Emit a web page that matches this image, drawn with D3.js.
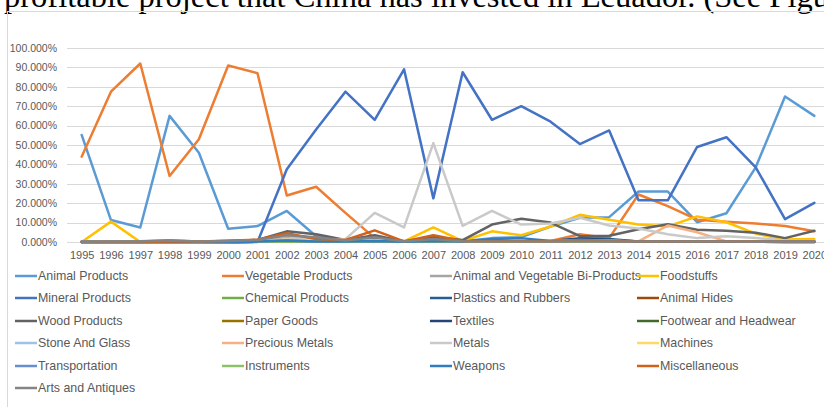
<!DOCTYPE html>
<html>
<head>
<meta charset="utf-8">
<script src="https://cdn.jsdelivr.net/npm/d3@7"></script>
<style>
  body { margin: 0; background: #fff; overflow: hidden; }
  text { font-family: "Liberation Sans", Arial, sans-serif; }
</style>
</head>
<body>
<div id="chart"></div>
<script>
var width = 824,
    height = 407;

// Years on the x axis
var years = d3.range(1995, 2021).map(String);

// y axis ticks (share, 0..1)
var yTicks = [0, 0.1, 0.2, 0.3, 0.4, 0.5, 0.6, 0.7, 0.8, 0.9, 1.0];

// Series names, in legend order
var seriesNames = [
  "Animal Products", "Vegetable Products", "Animal and Vegetable Bi-Products", "Foodstuffs",
  "Mineral Products", "Chemical Products", "Plastics and Rubbers", "Animal Hides",
  "Wood Products", "Paper Goods", "Textiles", "Footwear and Headwear",
  "Stone And Glass", "Precious Metals", "Metals", "Machines",
  "Transportation", "Instruments", "Weapons", "Miscellaneous",
  "Arts and Antiques"
];

// Excel-like colours for each series
var seriesColors = [
  "#5B9BD5", "#ED7D31", "#A5A5A5", "#FFC000",
  "#4472C4", "#70AD47", "#255E91", "#9E480E",
  "#636363", "#997300", "#264478", "#43682B",
  "#9DC3E6", "#F4B183", "#C9C9C9", "#FFD966",
  "#698ED0", "#8CC168", "#327DC2", "#D0611A",
  "#848484"
];

// Shares in percent, 1995..2020
var animalProducts   = [55.2, 11.3, 7.5, 65, 46, 6.8, 8.2, 16, 3, 0.8, 0.6, 0.3, 1.2, 0.4, 2, 2.5, 8, 12.5, 12.8, 26, 26, 10.2, 14.8, 38.5, 75, 65];
var vegetableProducts= [44, 77.5, 92, 34, 53, 91, 87, 24, 28.5, 15, 2, 0.5, 1.5, 0.3, 0.4, 0.4, 0.5, 4, 2, 24.5, 18.5, 11.5, 10.5, 9.5, 8.3, 5.5];
var biProducts       = [0, 0, 0, 0.2, 0, 0.1, 0.3, 2, 1.5, 0.5, 0.8, 0.2, 0.8, 0.2, 0.3, 0.3, 0.3, 0.5, 0.4, 0.3, 0.3, 0.2, 0.2, 0.2, 0.1, 0.1];
var foodstuffs       = [0, 10.5, 0, 0, 0, 0.3, 0.8, 3, 1, 0.8, 1.2, 0.3, 7.5, 0.5, 5.5, 3.5, 8, 14, 11.5, 9, 8, 13.2, 10.2, 4.3, 1.3, 1.5];
var mineralProducts  = [0, 0, 0, 0, 0, 0, 0, 37.5, 58, 77.5, 63, 89, 22.5, 87.5, 63, 70, 62, 50.5, 57.5, 21.5, 21.5, 49, 54, 38.5, 11.8, 20.2];
var chemicalProducts = [0, 0, 0, 0, 0, 0, 0.1, 0.5, 0.3, 0.2, 0.3, 0.1, 0.3, 0.1, 0.2, 0.2, 0.2, 0.2, 0.2, 0.1, 0.1, 0.1, 0.1, 0.1, 0.1, 0.1];
var plastics         = [0, 0, 0, 0, 0, 0, 0.2, 1.5, 0.5, 0.3, 1.5, 0.2, 1.5, 0.2, 0.5, 0.5, 0.5, 2, 1.5, 0.2, 0.2, 0.1, 0.1, 0.1, 0.1, 0.1];
var animalHides      = [0, 0, 0, 0, 0, 0.2, 0.5, 2, 0.8, 0.5, 3, 0.2, 2, 0.3, 0.3, 0.3, 0.3, 0.5, 0.3, 0.2, 0.2, 0.2, 0.2, 0.1, 0.1, 0.1];
var woodProducts     = [0.2, 0.3, 0.4, 0.8, 0.3, 0.5, 1, 5.5, 4, 1, 3.5, 0.3, 2.5, 1, 9, 12, 10, 3, 3.2, 6.6, 9.2, 6.3, 5.8, 4.8, 2, 5.8];
var paperGoods       = [0, 0, 0, 0, 0, 0, 0.1, 0.5, 0.3, 0.2, 0.3, 0.1, 0.3, 0.1, 0.1, 0.1, 0.1, 0.1, 0.1, 0.1, 0.1, 0.1, 0.1, 0.1, 0, 0];
var textiles         = [0, 0, 0, 0, 0, 0, 0.2, 1, 0.5, 0.3, 1, 0.2, 1, 0.2, 0.3, 0.3, 0.3, 1.5, 1, 0.2, 0.1, 0.1, 0.1, 0.1, 0.1, 0.1];
var footwear         = [0, 0, 0, 0, 0, 0, 0.1, 0.5, 0.2, 0.2, 0.3, 0.1, 0.3, 0.1, 0.1, 0.1, 0.1, 0.1, 0.1, 0.1, 0.1, 0.1, 0.1, 0.1, 0, 0];
var stoneAndGlass    = [0, 0, 0, 0, 0, 0, 0.2, 1, 0.5, 0.3, 0.8, 0.2, 0.8, 0.2, 0.5, 0.5, 0.5, 1, 0.8, 0.3, 0.3, 0.2, 0.2, 0.2, 0.1, 0.1];
var preciousMetals   = [0, 0, 0, 0, 0, 0.3, 1, 3, 1, 0.5, 1, 0.2, 1, 0.2, 0.3, 0.3, 0.3, 0.5, 0.5, 0.3, 8.5, 5, 0.3, 0.2, 0.1, 0.1];
var metals           = [0, 0, 0, 0, 0, 0, 0.5, 1.5, 1, 1.5, 15, 7.5, 51, 8.3, 16, 9, 9.5, 12.5, 8.5, 7, 4, 2, 3, 2, 0.8, 0.5];
var machines         = [0, 0, 0, 0, 0, 0.2, 0.5, 1, 0.5, 0.5, 1, 0.2, 1, 0.2, 0.5, 0.5, 0.5, 0.5, 0.5, 0.3, 0.3, 0.3, 0.3, 0.2, 0.1, 0.1];
var transportation   = [0, 0, 0, 0, 0, 0, 0.2, 0.8, 0.3, 0.3, 0.5, 0.1, 0.5, 0.1, 0.3, 0.3, 0.3, 0.5, 0.5, 0.2, 0.2, 0.1, 0.1, 0.1, 0.1, 0.1];
var instruments      = [0, 0, 0, 0, 0, 0, 0.1, 0.3, 0.2, 0.1, 0.2, 0.1, 0.2, 0.1, 0.1, 0.1, 0.1, 0.1, 0.1, 0.1, 0.1, 0.1, 0.1, 0.1, 0, 0];
var weapons          = [0, 0, 0, 0, 0, 0, 0.2, 0.8, 0.3, 0.3, 0.5, 0.1, 0.5, 0.2, 1.5, 2, 0.5, 0.8, 0.5, 0.2, 0.2, 0.1, 0.1, 0.1, 0.1, 0.1];
var miscellaneous    = [0, 0, 0, 0.3, 0.2, 0.6, 1.2, 4.5, 1.5, 1, 6, 0.3, 3.5, 0.5, 0.4, 0.4, 0.4, 0.8, 0.5, 0.3, 0.3, 0.2, 0.2, 0.2, 0.1, 0.1];
var artsAndAntiques  = [0.1, 0.2, 0.3, 0.8, 0.3, 0.5, 1, 3.5, 2.5, 0.8, 2.5, 0.3, 1.5, 0.3, 0.3, 0.3, 0.3, 0.3, 0.3, 0.2, 0.2, 0.2, 0.2, 0.1, 0.1, 0.1];

var seriesValues = [
  animalProducts, vegetableProducts, biProducts, foodstuffs,
  mineralProducts, chemicalProducts, plastics, animalHides,
  woodProducts, paperGoods, textiles, footwear,
  stoneAndGlass, preciousMetals, metals, machines,
  transportation, instruments, weapons, miscellaneous,
  artsAndAntiques
];

var series = seriesNames.map(function(name, i) {
  return { name: name, color: seriesColors[i], values: seriesValues[i] };
});

var svg = d3.select("#chart").append("svg")
    .attr("width", width)
    .attr("height", height);

// Surrounding document text, cut off at the top
svg.append("text")
    .attr("x", 4)
    .attr("y", 7)
    .style("font-family", "'Liberation Serif', 'Times New Roman', serif")
    .style("font-size", "32.5px")
    .attr("fill", "#000")
    .text("profitable project that China has invested in Ecuador. (See Figure 4)");

// Chart frame
svg.append("rect")
    .attr("x", 7.5)
    .attr("y", 11.5)
    .attr("width", 830)
    .attr("height", 420)
    .attr("fill", "none")
    .attr("stroke", "#D9D9D9");

var x = d3.scalePoint()
    .domain(years)
    .range([67, 829])
    .padding(0.5);

var y = d3.scaleLinear()
    .domain([0, 1])
    .range([242, 48]);

// Gridlines
svg.append("g")
  .selectAll("line")
    .data(yTicks)
  .enter().append("line")
    .attr("x1", 67)
    .attr("x2", 829)
    .attr("y1", function(d) { return Math.round(y(d)) + 0.5; })
    .attr("y2", function(d) { return Math.round(y(d)) + 0.5; })
    .attr("stroke", "#D9D9D9")
    .attr("stroke-width", 1);

// Y axis labels
var yAxis = d3.axisLeft(y)
    .tickValues(yTicks)
    .tickSize(0)
    .tickPadding(0)
    .tickFormat(function(d) { return d3.format(".3f")(d * 100) + "%"; });

svg.append("g")
    .attr("transform", "translate(57,0)")
    .call(yAxis)
    .call(function(g) { g.select(".domain").remove(); })
    .selectAll("text")
    .attr("fill", "#595959")
    .style("font-size", "10.5px");

// X axis labels
var xAxis = d3.axisBottom(x)
    .tickSize(0)
    .tickPadding(0);

svg.append("g")
    .attr("transform", "translate(0,251)")
    .call(xAxis)
    .call(function(g) { g.select(".domain").remove(); })
    .selectAll("text")
    .attr("fill", "#595959")
    .style("font-size", "11px");

// Lines
var line = d3.line()
    .x(function(d, i) { return x(years[i]); })
    .y(function(d) { return y(d / 100); });

svg.append("g")
  .selectAll("path")
    .data(series)
  .enter().append("path")
    .attr("d", function(d) { return line(d.values); })
    .attr("fill", "none")
    .attr("stroke", function(d) { return d.color; })
    .attr("stroke-width", 2.5)
    .attr("stroke-linejoin", "round")
    .attr("stroke-linecap", "round");

// Legend
var legendCols = [15, 222, 430, 637],
    legendRows = [276, 298, 321, 343, 366, 388];

var legend = svg.append("g")
  .selectAll("g")
    .data(series)
  .enter().append("g")
    .attr("transform", function(d, i) {
      return "translate(" + legendCols[i % 4] + "," + legendRows[Math.floor(i / 4)] + ")";
    });

legend.append("line")
    .attr("x1", 0)
    .attr("x2", 22)
    .attr("stroke", function(d) { return d.color; })
    .attr("stroke-width", 2.5);

legend.append("text")
    .attr("x", 23)
    .attr("dy", "0.35em")
    .attr("fill", "#595959")
    .style("font-size", "12.4px")
    .text(function(d) { return d.name; });
</script>
</body>
</html>
